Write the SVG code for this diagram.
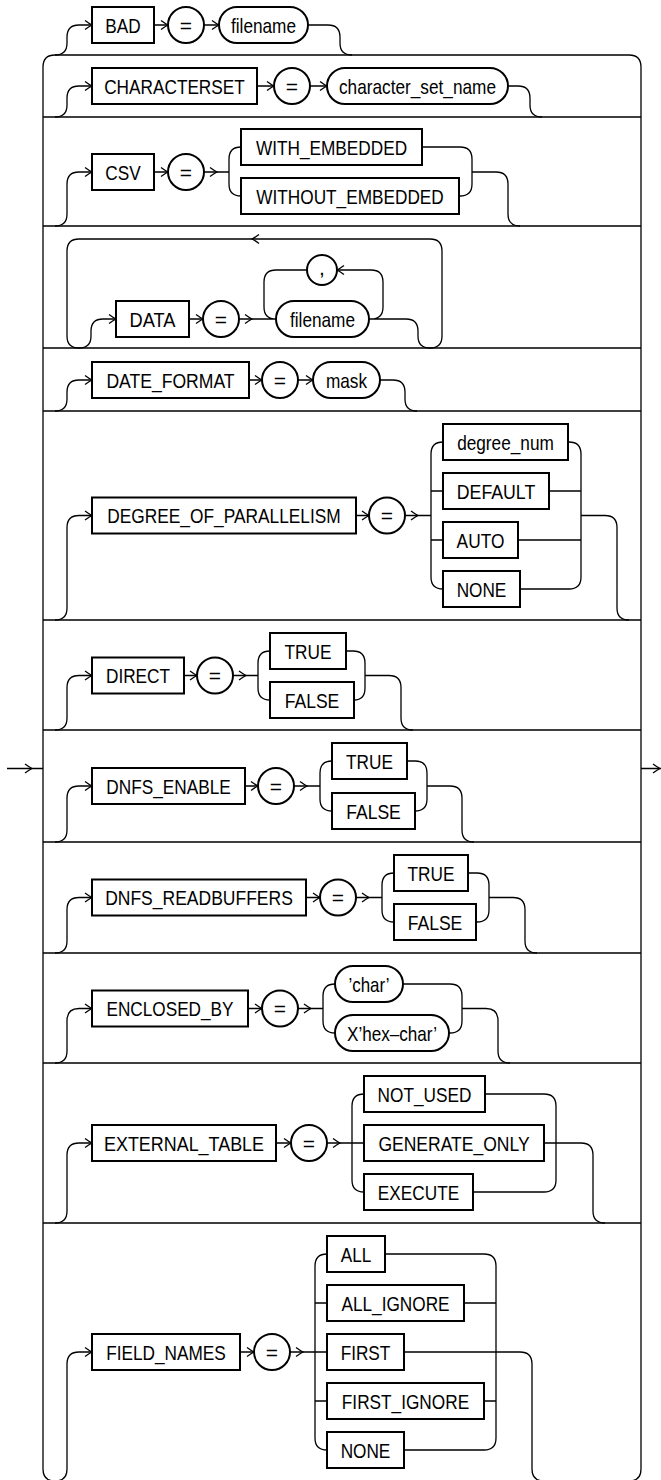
<svg xmlns="http://www.w3.org/2000/svg" xmlns:xlink="http://www.w3.org/1999/xlink" width="661" height="1480" viewBox="0 0 661 1480">
<style>
.c{fill:none;stroke:#000;stroke-width:1.3}
.k{fill:#fff;stroke:#000;stroke-width:2}
.t{font-family:"Liberation Sans Narrow","Arial Narrow","Liberation Sans",Arial,sans-serif;font-size:21px;text-anchor:middle;fill:#000}
.a{fill:none;stroke:#000;stroke-width:1.3}
</style>
<defs>
<path id="ar" class="a" d="M -7 -4.5 Q -2.5 -1.2 0 0 Q -2.5 1.2 -7 4.5"/>
<path id="al" class="a" d="M 7 -4.5 Q 2.5 -1.2 0 0 Q 2.5 1.2 7 4.5"/>
</defs>
<rect width="661" height="1480" fill="#fff"/>
<g id="connectors">
<path class="c" d="M 43 1469 V 67 Q 43 55 55 55 H 629 Q 641 55 641 67 V 1469 Q 641 1481 629 1481 H 55 Q 43 1481 43 1469 Z"/>
<path class="c" d="M 43 117 H 641 M 43 226 H 641 M 43 348 H 641 M 43 411 H 641 M 43 620 H 641 M 43 730 H 641 M 43 842 H 641 M 43 953 H 641 M 43 1063 H 641 M 43 1223 H 641"/>
<path class="c" d="M 7 768.5 H 43 M 641 768.5 H 661"/>
<use xlink:href="#ar" x="32" y="768.5"/>
<use xlink:href="#ar" x="660" y="768.5"/>
<!-- row 1 -->
<path class="c" d="M 55 55 Q 67 55 67 43 V 37 Q 67 25 79 25 H 92 M 154 25 H 168 M 204 25 H 219 M 308 25 H 328 Q 340 25 340 37 V 43 Q 340 55 352 55"/>
<use xlink:href="#ar" x="92" y="25"/><use xlink:href="#ar" x="168" y="25"/><use xlink:href="#ar" x="219" y="25"/>
<!-- row 2 -->
<path class="c" d="M 55 117 Q 67 117 67 105 V 98 Q 67 86 79 86 H 92 M 257 86 H 274 M 310 86 H 327 M 508 86 H 518 Q 530 86 530 98 V 105 Q 530 117 542 117"/>
<use xlink:href="#ar" x="92" y="86"/><use xlink:href="#ar" x="274" y="86"/><use xlink:href="#ar" x="327" y="86"/>
<!-- row 3 -->
<path class="c" d="M 55 226 Q 67 226 67 214 V 184 Q 67 172 79 172 H 92 M 154 172 H 168 M 204 172 H 229 M 241 147 Q 229 147 229 159 V 184 Q 229 196 241 196 M 422 147 H 460 Q 472 147 472 159 V 184 Q 472 196 460 196 H 459 M 472 172 H 496 Q 508 172 508 184 V 214 Q 508 226 520 226"/>
<use xlink:href="#ar" x="92" y="172"/><use xlink:href="#ar" x="168" y="172"/><use xlink:href="#ar" x="217" y="172"/>
<!-- row 4 -->
<path class="c" d="M 430 348 Q 442 348 442 336 V 251 Q 442 239 430 239 H 79 Q 67 239 67 251 V 336 Q 67 348 79 348 Q 91 348 91 336 V 331 Q 91 319 103 319 H 116 M 189 319 H 203 M 239 319 H 276 M 307 270 H 276 Q 264 270 264 282 V 307 Q 264 319 276 319 M 369 319 H 371 Q 383 319 383 307 V 282 Q 383 270 371 270 H 337 M 369 319 H 406 Q 418 319 418 331 V 336 Q 418 348 430 348"/>
<use xlink:href="#al" x="252" y="239"/><use xlink:href="#ar" x="116" y="319"/><use xlink:href="#ar" x="203" y="319"/><use xlink:href="#ar" x="252" y="319"/><use xlink:href="#al" x="337" y="270"/>
<!-- row 5 -->
<path class="c" d="M 55 411 Q 67 411 67 399 V 392 Q 67 380 79 380 H 92 M 249 380 H 262 M 298 380 H 313 M 380 380 H 393 Q 405 380 405 392 V 399 Q 405 411 417 411"/>
<use xlink:href="#ar" x="92" y="380"/><use xlink:href="#ar" x="262" y="380"/><use xlink:href="#ar" x="313" y="380"/>
<!-- row 6 -->
<path class="c" d="M 55 620 Q 67 620 67 608 V 527.5 Q 67 515.5 79 515.5 H 92 M 356 515.5 H 369 M 405 515.5 H 431 M 443 442 Q 431 442 431 454 V 577 Q 431 589 443 589 M 431 491 H 443 M 431 540 H 443 M 568 442 H 569 Q 581 442 581 454 V 577 Q 581 589 569 589 H 520 M 549 491 H 581 M 518 540 H 581 M 581 515.5 H 605 Q 617 515.5 617 527.5 V 608 Q 617 620 629 620"/>
<use xlink:href="#ar" x="92" y="515.5"/><use xlink:href="#ar" x="369" y="515.5"/><use xlink:href="#ar" x="418" y="515.5"/>
<!-- row 7 -->
<path class="c" d="M 55 730 Q 67 730 67 718 V 687.5 Q 67 675.5 79 675.5 H 92 M 184 675.5 H 197 M 233 675.5 H 258 M 270 651 Q 258 651 258 663 V 688 Q 258 700 270 700 M 346 651 H 353 Q 365 651 365 663 V 688 Q 365 700 354 700 M 365 675.5 H 389 Q 401 675.5 401 687.5 V 718 Q 401 730 413 730"/>
<use xlink:href="#ar" x="92" y="675.5"/><use xlink:href="#ar" x="197" y="675.5"/><use xlink:href="#ar" x="246" y="675.5"/>
<!-- row 8 -->
<path class="c" d="M 55 842 Q 67 842 67 830 V 798 Q 67 786 79 786 H 92 M 245 786 H 258 M 294 786 H 320 M 332 761 Q 320 761 320 773 V 799 Q 320 811 332 811 M 407 761 H 415 Q 427 761 427 773 V 799 Q 427 811 415 811 M 427 786 H 450 Q 462 786 462 798 V 830 Q 462 842 474 842"/>
<use xlink:href="#ar" x="92" y="786"/><use xlink:href="#ar" x="258" y="786"/><use xlink:href="#ar" x="307" y="786"/>
<!-- row 9 -->
<path class="c" d="M 55 953 Q 67 953 67 941 V 909.5 Q 67 897.5 79 897.5 H 92 M 306 897.5 H 320 M 356 897.5 H 382 M 394 873 Q 382 873 382 885 V 910 Q 382 922 394 922 M 468 873 H 477 Q 489 873 489 885 V 910 Q 489 922 477 922 H 476 M 489 897.5 H 513 Q 525 897.5 525 909.5 V 941 Q 525 953 537 953"/>
<use xlink:href="#ar" x="92" y="897.5"/><use xlink:href="#ar" x="320" y="897.5"/><use xlink:href="#ar" x="369" y="897.5"/>
<!-- row 10 -->
<path class="c" d="M 55 1063 Q 67 1063 67 1051 V 1020.5 Q 67 1008.5 79 1008.5 H 92 M 248 1008.5 H 262 M 298 1008.5 H 323 M 335 984 Q 323 984 323 996 V 1021 Q 323 1033 335 1033 M 403 984 H 450 Q 462 984 462 996 V 1021 Q 462 1033 450 1033 H 449 M 462 1008.5 H 486 Q 498 1008.5 498 1020.5 V 1051 Q 498 1063 510 1063"/>
<use xlink:href="#ar" x="92" y="1008.5"/><use xlink:href="#ar" x="262" y="1008.5"/><use xlink:href="#ar" x="311" y="1008.5"/>
<!-- row 11 -->
<path class="c" d="M 55 1223 Q 67 1223 67 1211 V 1155 Q 67 1143 79 1143 H 92 M 276 1143 H 291 M 327 1143 H 364 M 364 1094 Q 352 1094 352 1106 V 1180 Q 352 1192 364 1192 M 485 1094 H 544 Q 556 1094 556 1106 V 1180 Q 556 1192 544 1192 H 473 M 544 1143 H 581 Q 593 1143 593 1155 V 1211 Q 593 1223 605 1223"/>
<use xlink:href="#ar" x="92" y="1143"/><use xlink:href="#ar" x="291" y="1143"/><use xlink:href="#ar" x="340" y="1143"/>
<!-- row 12 -->
<path class="c" d="M 55 1481 Q 67 1481 67 1469 V 1364 Q 67 1352 79 1352 H 92 M 240 1352 H 254 M 290 1352 H 327 M 327 1254 Q 315 1254 315 1266 V 1438 Q 315 1450 327 1450 M 315 1303 H 327 M 315 1401 H 327 M 385 1254 H 484 Q 496 1254 496 1266 V 1438 Q 496 1450 484 1450 H 404 M 464 1303 H 496 M 484 1401 H 496 M 404 1352 H 520 Q 532 1352 532 1364 V 1469 Q 532 1481 544 1481"/>
<use xlink:href="#ar" x="92" y="1352"/><use xlink:href="#ar" x="254" y="1352"/><use xlink:href="#ar" x="303" y="1352"/>
</g>
<!-- row 1 nodes -->
<g id="n-bad"><rect class="k" x="92" y="7" width="62" height="36"/><text class="t" x="123" y="32.5" textLength="35.4" lengthAdjust="spacingAndGlyphs">BAD</text></g>
<g id="n-eq1"><circle class="k" cx="186" cy="25" r="18"/><text class="t" x="186" y="32.5">=</text></g>
<g id="n-filename1"><rect class="k" x="219" y="7" width="89" height="36" rx="18"/><text class="t" x="263.5" y="32.5" textLength="65.1" lengthAdjust="spacingAndGlyphs">filename</text></g>
<!-- row 2 -->
<g id="n-characterset"><rect class="k" x="92" y="68" width="165" height="36"/><text class="t" x="174.5" y="93.5" textLength="140.6" lengthAdjust="spacingAndGlyphs">CHARACTERSET</text></g>
<g id="n-eq2"><circle class="k" cx="292" cy="86" r="18"/><text class="t" x="292" y="93.5">=</text></g>
<g id="n-character_set_name"><rect class="k" x="327" y="68" width="181" height="36" rx="18"/><text class="t" x="417.5" y="93.5" textLength="157" lengthAdjust="spacingAndGlyphs">character_set_name</text></g>
<!-- row 3 -->
<g id="n-csv"><rect class="k" x="92" y="154" width="62" height="36"/><text class="t" x="123" y="179.5" textLength="35.4" lengthAdjust="spacingAndGlyphs">CSV</text></g>
<g id="n-eq3"><circle class="k" cx="186" cy="172" r="18"/><text class="t" x="186" y="179.5">=</text></g>
<g id="n-with_embedded"><rect class="k" x="241" y="129" width="181" height="36"/><text class="t" x="331.5" y="154.5" textLength="151.2" lengthAdjust="spacingAndGlyphs">WITH_EMBEDDED</text></g>
<g id="n-without_embedded"><rect class="k" x="241" y="178" width="218" height="36"/><text class="t" x="350" y="203.5" textLength="187.5" lengthAdjust="spacingAndGlyphs">WITHOUT_EMBEDDED</text></g>
<!-- row 4 -->
<g id="n-data"><rect class="k" x="116" y="301" width="73" height="36"/><text class="t" x="152.5" y="326.5" textLength="45.9" lengthAdjust="spacingAndGlyphs">DATA</text></g>
<g id="n-eq4"><circle class="k" cx="221" cy="319" r="18"/><text class="t" x="221" y="326.5">=</text></g>
<g id="n-filename4"><rect class="k" x="276" y="301" width="93" height="36" rx="18"/><text class="t" x="322.5" y="326.5" textLength="65.1" lengthAdjust="spacingAndGlyphs">filename</text></g>
<g id="n-comma"><circle class="k" cx="322" cy="270" r="15"/><text class="t" x="322" y="275">,</text></g>
<!-- row 5 -->
<g id="n-date_format"><rect class="k" x="92" y="362" width="157" height="36"/><text class="t" x="170.5" y="387.5" textLength="128.2" lengthAdjust="spacingAndGlyphs">DATE_FORMAT</text></g>
<g id="n-eq5"><circle class="k" cx="280" cy="380" r="18"/><text class="t" x="280" y="387.5">=</text></g>
<g id="n-mask"><rect class="k" x="313" y="362" width="67" height="36" rx="18"/><text class="t" x="346.5" y="387.5" textLength="41.1" lengthAdjust="spacingAndGlyphs">mask</text></g>
<!-- row 6 -->
<g id="n-degree_of_parallelism"><rect class="k" x="92" y="497.5" width="264" height="36"/><text class="t" x="224" y="523" textLength="233.5" lengthAdjust="spacingAndGlyphs">DEGREE_OF_PARALLELISM</text></g>
<g id="n-eq6"><circle class="k" cx="387" cy="515.5" r="18"/><text class="t" x="387" y="523">=</text></g>
<g id="n-degree_num"><rect class="k" x="443" y="424" width="125" height="36"/><text class="t" x="505.5" y="449.5" textLength="96.7" lengthAdjust="spacingAndGlyphs">degree_num</text></g>
<g id="n-default"><rect class="k" x="443" y="473" width="106" height="36"/><text class="t" x="496" y="498.5" textLength="78.5" lengthAdjust="spacingAndGlyphs">DEFAULT</text></g>
<g id="n-auto"><rect class="k" x="443" y="522" width="75" height="36"/><text class="t" x="480.5" y="547.5" textLength="47.8" lengthAdjust="spacingAndGlyphs">AUTO</text></g>
<g id="n-none6"><rect class="k" x="443" y="571" width="77" height="36"/><text class="t" x="481.5" y="596.5" textLength="49.7" lengthAdjust="spacingAndGlyphs">NONE</text></g>
<!-- row 7 -->
<g id="n-direct"><rect class="k" x="92" y="657.5" width="92" height="36"/><text class="t" x="138" y="683" textLength="64.1" lengthAdjust="spacingAndGlyphs">DIRECT</text></g>
<g id="n-eq7"><circle class="k" cx="215" cy="675.5" r="18"/><text class="t" x="215" y="683">=</text></g>
<g id="n-true7"><rect class="k" x="270" y="633" width="76" height="36"/><text class="t" x="308" y="658.5" textLength="46.9" lengthAdjust="spacingAndGlyphs">TRUE</text></g>
<g id="n-false7"><rect class="k" x="270" y="682" width="84" height="36"/><text class="t" x="312" y="707.5" textLength="54.6" lengthAdjust="spacingAndGlyphs">FALSE</text></g>
<!-- row 8 -->
<g id="n-dnfs_enable"><rect class="k" x="92" y="768" width="153" height="36"/><text class="t" x="168.5" y="793.5" textLength="124.4" lengthAdjust="spacingAndGlyphs">DNFS_ENABLE</text></g>
<g id="n-eq8"><circle class="k" cx="276" cy="786" r="18"/><text class="t" x="276" y="793.5">=</text></g>
<g id="n-true8"><rect class="k" x="332" y="743" width="75" height="36"/><text class="t" x="369.5" y="768.5" textLength="46.9" lengthAdjust="spacingAndGlyphs">TRUE</text></g>
<g id="n-false8"><rect class="k" x="332" y="793" width="83" height="36"/><text class="t" x="373.5" y="818.5" textLength="54.6" lengthAdjust="spacingAndGlyphs">FALSE</text></g>
<!-- row 9 -->
<g id="n-dnfs_readbuffers"><rect class="k" x="92" y="879.5" width="214" height="36"/><text class="t" x="199" y="905" textLength="187.7" lengthAdjust="spacingAndGlyphs">DNFS_READBUFFERS</text></g>
<g id="n-eq9"><circle class="k" cx="338" cy="897.5" r="18"/><text class="t" x="338" y="905">=</text></g>
<g id="n-true9"><rect class="k" x="394" y="855" width="74" height="36"/><text class="t" x="431" y="880.5" textLength="46.9" lengthAdjust="spacingAndGlyphs">TRUE</text></g>
<g id="n-false9"><rect class="k" x="394" y="904" width="82" height="36"/><text class="t" x="435" y="929.5" textLength="54.6" lengthAdjust="spacingAndGlyphs">FALSE</text></g>
<!-- row 10 -->
<g id="n-enclosed_by"><rect class="k" x="92" y="990.5" width="156" height="36"/><text class="t" x="170" y="1016" textLength="127.1" lengthAdjust="spacingAndGlyphs">ENCLOSED_BY</text></g>
<g id="n-eq10"><circle class="k" cx="280" cy="1008.5" r="18"/><text class="t" x="280" y="1016">=</text></g>
<g id="n-char"><rect class="k" x="335" y="966" width="68" height="36" rx="18"/><text class="t" x="369" y="991.5" textLength="41.1" lengthAdjust="spacingAndGlyphs">’char’</text></g>
<g id="n-hexchar"><rect class="k" x="335" y="1015" width="114" height="36" rx="18"/><text class="t" x="392" y="1040.5" textLength="90" lengthAdjust="spacingAndGlyphs">X’hex–char’</text></g>
<!-- row 11 -->
<g id="n-external_table"><rect class="k" x="92" y="1125" width="184" height="36"/><text class="t" x="184" y="1150.5" textLength="160" lengthAdjust="spacingAndGlyphs">EXTERNAL_TABLE</text></g>
<g id="n-eq11"><circle class="k" cx="309" cy="1143" r="18"/><text class="t" x="309" y="1150.5">=</text></g>
<g id="n-not_used"><rect class="k" x="364" y="1076" width="121" height="36"/><text class="t" x="424.5" y="1101.5" textLength="93.8" lengthAdjust="spacingAndGlyphs">NOT_USED</text></g>
<g id="n-generate_only"><rect class="k" x="364" y="1125" width="180" height="36"/><text class="t" x="454" y="1150.5" textLength="151.2" lengthAdjust="spacingAndGlyphs">GENERATE_ONLY</text></g>
<g id="n-execute"><rect class="k" x="364" y="1174" width="109" height="36"/><text class="t" x="418.5" y="1199.5" textLength="81.3" lengthAdjust="spacingAndGlyphs">EXECUTE</text></g>
<!-- row 12 -->
<g id="n-field_names"><rect class="k" x="92" y="1334" width="148" height="36"/><text class="t" x="166" y="1359.5" textLength="119.6" lengthAdjust="spacingAndGlyphs">FIELD_NAMES</text></g>
<g id="n-eq12"><circle class="k" cx="272" cy="1352" r="18"/><text class="t" x="272" y="1359.5">=</text></g>
<g id="n-all"><rect class="k" x="327" y="1236" width="58" height="36"/><text class="t" x="356" y="1261.5" textLength="30.6" lengthAdjust="spacingAndGlyphs">ALL</text></g>
<g id="n-all_ignore"><rect class="k" x="327" y="1285" width="137" height="36"/><text class="t" x="395.5" y="1310.5" textLength="108.1" lengthAdjust="spacingAndGlyphs">ALL_IGNORE</text></g>
<g id="n-first"><rect class="k" x="327" y="1334" width="77" height="36"/><text class="t" x="365.5" y="1359.5" textLength="49.7" lengthAdjust="spacingAndGlyphs">FIRST</text></g>
<g id="n-first_ignore"><rect class="k" x="327" y="1383" width="157" height="36"/><text class="t" x="405.5" y="1408.5" textLength="127.3" lengthAdjust="spacingAndGlyphs">FIRST_IGNORE</text></g>
<g id="n-none12"><rect class="k" x="327" y="1432" width="77" height="36"/><text class="t" x="365.5" y="1457.5" textLength="49.7" lengthAdjust="spacingAndGlyphs">NONE</text></g>
</svg>
